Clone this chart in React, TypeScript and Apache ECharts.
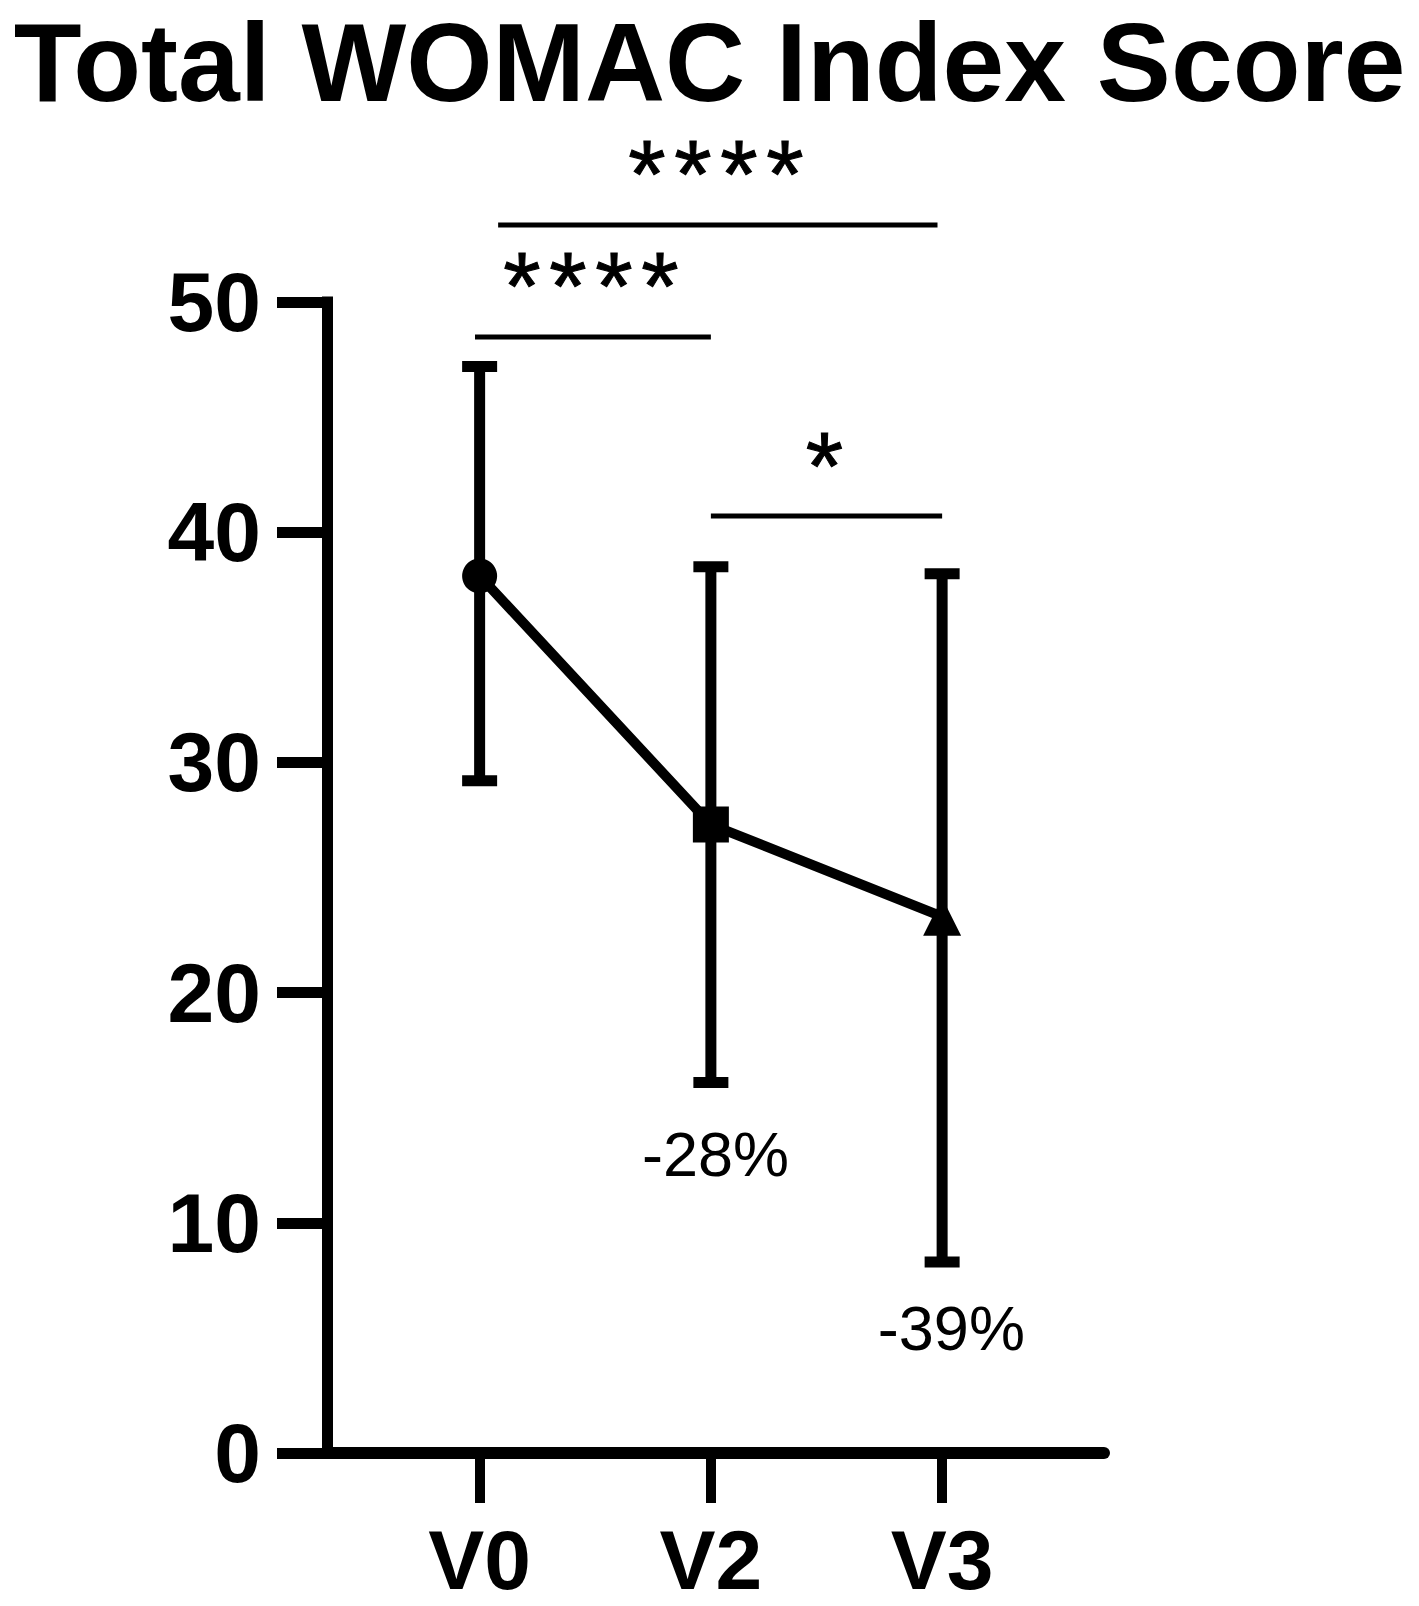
import React, { useEffect, useRef } from "react";
import * as echarts from "echarts";

const categories = ["V0", "V2", "V3"];
const means = [38.1, 27.3, 23.3];
const upperErr = [47.2, 38.5, 38.2];
const lowerErr = [29.2, 16.1, 8.3];
const markerSymbols = ["circle", "rect", "triangle"];
const markerSizes = [35, 36, 38];

const yMin = 0;
const yMax = 50;
const yInterval = 10;

// significance brackets: from category index, to category index, level (y units), stars
const bracketFrom = [0.08, -0.02, 1.0];
const bracketTo = [1.98, 1.0, 2.0];
const bracketLevel = [53.35, 48.48, 40.7];
const bracketStars = [4, 4, 1];

// percent change labels
const changeText = ["-28%", "-39%"];
const changeX = [1.02, 2.04];
const changeY = [13.0, 5.45];

const FONT = "'Liberation Sans', Arial, Helvetica, sans-serif";

export default function App() {
  const ref = useRef<HTMLDivElement>(null);

  useEffect(() => {
    if (!ref.current) return;
    const chart = echarts.init(ref.current, null, { renderer: "svg" });

    const errData = categories.map((_, i) => [i, upperErr[i], lowerErr[i]]);
    const lineData = categories.map((_, i) => ({
      value: [i, means[i]],
      symbol: markerSymbols[i],
      symbolSize: markerSizes[i],
    }));
    const bracketData = bracketFrom.map((f, i) => [f, bracketTo[i], bracketLevel[i], bracketStars[i]]);
    const changeData = changeText.map((t, i) => [changeX[i], changeY[i], i]);

    const option: any = {
      animation: false,
      backgroundColor: "#ffffff",
      title: {
        text: "Total WOMAC Index Score",
        left: "center",
        top: 2,
        textStyle: { fontSize: 111, fontWeight: "bold", color: "#000", fontFamily: FONT },
      },
      grid: { left: 327, right: 315, top: 302, bottom: 153, containLabel: false },
      xAxis: {
        type: "value",
        min: -0.66,
        max: 2.7,
        axisLine: { show: true, onZero: false, lineStyle: { color: "#000", width: 12 } },
        axisTick: {
          show: true,
          customValues: [0, 1, 2],
          length: 50,
          lineStyle: { color: "#000", width: 10 },
        },
        axisLabel: {
          show: true,
          customValues: [0, 1, 2],
          formatter: (v: number) => categories[Math.round(v)] ?? "",
          fontSize: 84,
          lineHeight: 70,
          fontWeight: "bold",
          color: "#000",
          fontFamily: FONT,
          margin: 72,
        },
        splitLine: { show: false },
      },
      yAxis: {
        type: "value",
        min: yMin,
        max: yMax,
        interval: yInterval,
        axisLine: { show: true, onZero: false, lineStyle: { color: "#000", width: 11, cap: "square" } },
        axisTick: { show: true, length: 50, lineStyle: { color: "#000", width: 11 } },
        axisLabel: {
          fontSize: 84,
          fontWeight: "bold",
          color: "#000",
          fontFamily: FONT,
          margin: 66,
        },
        splitLine: { show: false },
      },
      series: [
        {
          type: "custom",
          name: "err",
          z: 2,
          clip: false,
          data: errData,
          encode: { x: 0, y: [1, 2] },
          renderItem: (params: any, api: any) => {
            const x = api.value(0);
            const top = api.coord([x, api.value(1)]);
            const bot = api.coord([x, api.value(2)]);
            const hw = 17.5;
            const st = { stroke: "#000", lineWidth: 11 };
            return {
              type: "group",
              children: [
                { type: "line", shape: { x1: top[0], y1: top[1], x2: bot[0], y2: bot[1] }, style: st },
                { type: "line", shape: { x1: top[0] - hw, y1: top[1], x2: top[0] + hw, y2: top[1] }, style: st },
                { type: "line", shape: { x1: bot[0] - hw, y1: bot[1], x2: bot[0] + hw, y2: bot[1] }, style: st },
              ],
            };
          },
        },
        {
          type: "line",
          name: "mean",
          z: 3,
          data: lineData,
          lineStyle: { color: "#000", width: 10 },
          itemStyle: { color: "#000" },
        },
        {
          type: "custom",
          name: "brackets",
          z: 4,
          clip: false,
          data: bracketData,
          encode: { x: [0, 1], y: 2 },
          renderItem: (params: any, api: any) => {
            const a = api.coord([api.value(0), api.value(2)]);
            const b = api.coord([api.value(1), api.value(2)]);
            const n = api.value(3);
            const cx = (a[0] + b[0]) / 2;
            const children: any[] = [
              { type: "line", shape: { x1: a[0], y1: a[1], x2: b[0], y2: b[1] }, style: { stroke: "#000", lineWidth: 5 } },
            ];
            const gap = 46;
            for (let k = 0; k < n; k++) {
              const sx = cx + (k - (n - 1) / 2) * gap - 2;
              children.push({
                type: "text",
                x: sx,
                y: a[1] - 65 + 14,
                style: {
                  text: "*",
                  fontSize: 96,
                  fontWeight: "normal",
                  fontFamily: FONT,
                  fill: "#000",
                  stroke: "#000",
                  lineWidth: 1,
                  align: "center",
                  verticalAlign: "middle",
                },
              });
            }
            return { type: "group", children };
          },
        },
        {
          type: "custom",
          name: "change",
          z: 4,
          clip: false,
          data: changeData,
          encode: { x: 0, y: 1 },
          renderItem: (params: any, api: any) => {
            const p = api.coord([api.value(0), api.value(1)]);
            return {
              type: "text",
              x: p[0],
              y: p[1],
              style: {
                text: changeText[api.value(2)],
                fontSize: 63,
                fontFamily: FONT,
                fill: "#000",
                align: "center",
                verticalAlign: "middle",
              },
            };
          },
        },
      ],
    };

    chart.setOption(option);
    return () => chart.dispose();
  }, []);

  return (
    <div
      ref={ref}
      style={{ position: "absolute", left: 0, top: 0, width: 1419, height: 1606, background: "#fff" }}
    />
  );
}
